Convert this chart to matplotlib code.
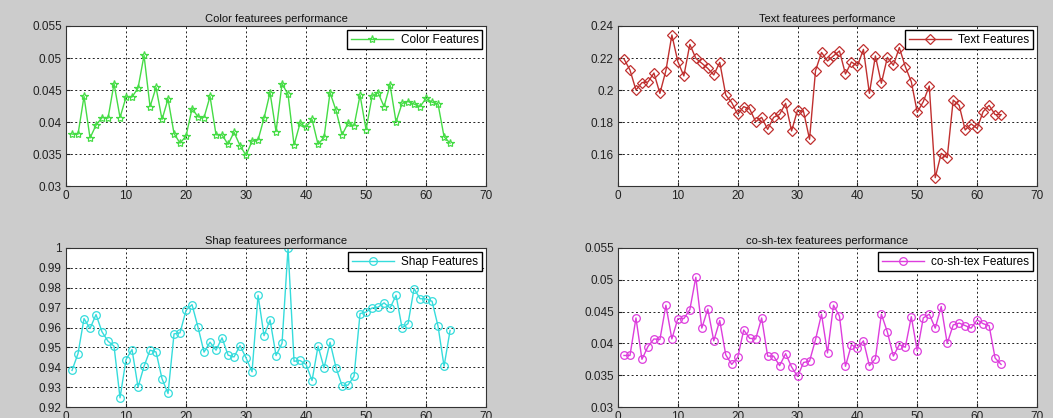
import matplotlib
matplotlib.use('Agg')
import matplotlib.pyplot as plt
from matplotlib.ticker import FuncFormatter

# Dados (64 amostras por serie)
amostras = list(range(1, 65))

color_feat = [0.0381, 0.0381, 0.0440, 0.0375, 0.0395, 0.0407, 0.0406, 0.0460, 0.0407, 0.0439,
              0.0439, 0.0453, 0.0504, 0.0424, 0.0454, 0.0404, 0.0436, 0.0382, 0.0367, 0.0378,
              0.0421, 0.0408, 0.0407, 0.0440, 0.0380, 0.0380, 0.0365, 0.0384, 0.0363, 0.0348,
              0.0370, 0.0372, 0.0406, 0.0446, 0.0385, 0.0460, 0.0443, 0.0364, 0.0398, 0.0392,
              0.0404, 0.0365, 0.0376, 0.0446, 0.0418, 0.0380, 0.0398, 0.0394, 0.0442, 0.0388,
              0.0440, 0.0446, 0.0424, 0.0458, 0.0400, 0.0429, 0.0432, 0.0428, 0.0424, 0.0437,
              0.0431, 0.0428, 0.0377, 0.0367]

text_feat = [0.2194, 0.2125, 0.2000, 0.2046, 0.2050, 0.2106, 0.1979, 0.2121, 0.2344, 0.2177,
             0.2088, 0.2285, 0.2198, 0.2167, 0.2135, 0.2094, 0.2173, 0.1969, 0.1921, 0.1848,
             0.1896, 0.1881, 0.1802, 0.1829, 0.1754, 0.1829, 0.1848, 0.1917, 0.1744, 0.1875,
             0.1865, 0.1692, 0.2121, 0.2235, 0.2181, 0.2213, 0.2244, 0.2100, 0.2175, 0.2150,
             0.2254, 0.1979, 0.2213, 0.2042, 0.2204, 0.2154, 0.2265, 0.2146, 0.2052, 0.1860,
             0.1927, 0.2025, 0.1452, 0.1604, 0.1577, 0.1937, 0.1904, 0.1750, 0.1788, 0.1760,
             0.1865, 0.1904, 0.1846, 0.1846]

shap_feat = [0.9384, 0.9469, 0.9645, 0.9595, 0.9665, 0.9578, 0.9531, 0.9506, 0.9246, 0.9439,
             0.9489, 0.9300, 0.9405, 0.9486, 0.9477, 0.9342, 0.9268, 0.9568, 0.9573, 0.9687,
             0.9715, 0.9601, 0.9476, 0.9526, 0.9486, 0.9548, 0.9461, 0.9452, 0.9509, 0.9447,
             0.9377, 0.9762, 0.9559, 0.9638, 0.9459, 0.9521, 1.0000, 0.9430, 0.9434, 0.9414,
             0.9333, 0.9506, 0.9397, 0.9526, 0.9397, 0.9308, 0.9310, 0.9355, 0.9670, 0.9678,
             0.9698, 0.9702, 0.9724, 0.9698, 0.9762, 0.9598, 0.9620, 0.9796, 0.9745, 0.9744,
             0.9732, 0.9606, 0.9405, 0.9585]

# co-sh-tex: na figura e igual a serie de cor
cosh_feat = [0.0381, 0.0381, 0.0440, 0.0375, 0.0395, 0.0407, 0.0406, 0.0460, 0.0407, 0.0439,
             0.0439, 0.0453, 0.0504, 0.0424, 0.0454, 0.0404, 0.0436, 0.0382, 0.0367, 0.0378,
             0.0421, 0.0408, 0.0407, 0.0440, 0.0380, 0.0380, 0.0365, 0.0384, 0.0363, 0.0348,
             0.0370, 0.0372, 0.0406, 0.0446, 0.0385, 0.0460, 0.0443, 0.0364, 0.0398, 0.0392,
             0.0404, 0.0365, 0.0376, 0.0446, 0.0418, 0.0380, 0.0398, 0.0394, 0.0442, 0.0388,
             0.0440, 0.0446, 0.0424, 0.0458, 0.0400, 0.0429, 0.0432, 0.0428, 0.0424, 0.0437,
             0.0431, 0.0428, 0.0377, 0.0367]

plt.rcParams['font.family'] = ['Liberation Sans', 'DejaVu Sans']

fig = plt.figure(figsize=(10.53, 4.18), dpi=100, facecolor='#cccccc')


################################################################################
# Desenha um painel no estilo do matlab
#
def painel(rect, y, titulo, rotulo, cor, marcador, tam, ylim, yticks):
    ax = fig.add_axes(rect)
    ax.plot(amostras, y, color=cor, marker=marcador, mfc='none', mec=cor,
            ms=tam, mew=0.9, lw=1.0, label=rotulo)
    ax.set_xlim(0, 70)
    ax.set_xticks(range(0, 71, 10))
    ax.set_ylim(*ylim)
    ax.set_yticks(yticks)
    ax.yaxis.set_major_formatter(FuncFormatter(lambda v, p: '%g' % round(v, 4)))
    ax.grid(True, color='#222222', linestyle=(0, (2, 2.5)), linewidth=0.7)
    ax.tick_params(direction='in', labelsize=8.5, length=3, colors='#222222', pad=3)
    for s in ax.spines.values():
        s.set_color('#333333')
        s.set_linewidth(0.8)
    ax.set_title(titulo, fontsize=8, pad=3, color='#111111')
    ax.legend(loc='upper right', fontsize=8.5, fancybox=False, edgecolor='k',
              framealpha=1, handlelength=3.6, borderaxespad=0.35,
              borderpad=0.3, handletextpad=0.6)
    return ax


painel([0.0627, 0.555, 0.3989, 0.3828], color_feat, 'Color featurees performance',
       'Color Features', '#45dc45', '*', 6, (0.03, 0.055),
       [0.03, 0.035, 0.04, 0.045, 0.05, 0.055])

painel([0.5869, 0.555, 0.3979, 0.3828], text_feat, 'Text featurees performance',
       'Text Features', '#c0302f', 'D', 4.8, (0.14, 0.24),
       [0.16, 0.18, 0.2, 0.22, 0.24])

painel([0.0627, 0.0263, 0.3989, 0.3804], shap_feat, 'Shap featurees performance',
       'Shap Features', '#35dcdc', 'o', 5.5, (0.92, 1.0),
       [0.92, 0.93, 0.94, 0.95, 0.96, 0.97, 0.98, 0.99, 1.0])

painel([0.5869, 0.0263, 0.3979, 0.3804], cosh_feat, 'co-sh-tex featurees performance',
       'co-sh-tex Features', '#dd3ddd', 'o', 5.5, (0.03, 0.055),
       [0.03, 0.035, 0.04, 0.045, 0.05, 0.055])

plt.savefig('out.png', dpi=100, facecolor=fig.get_facecolor())
